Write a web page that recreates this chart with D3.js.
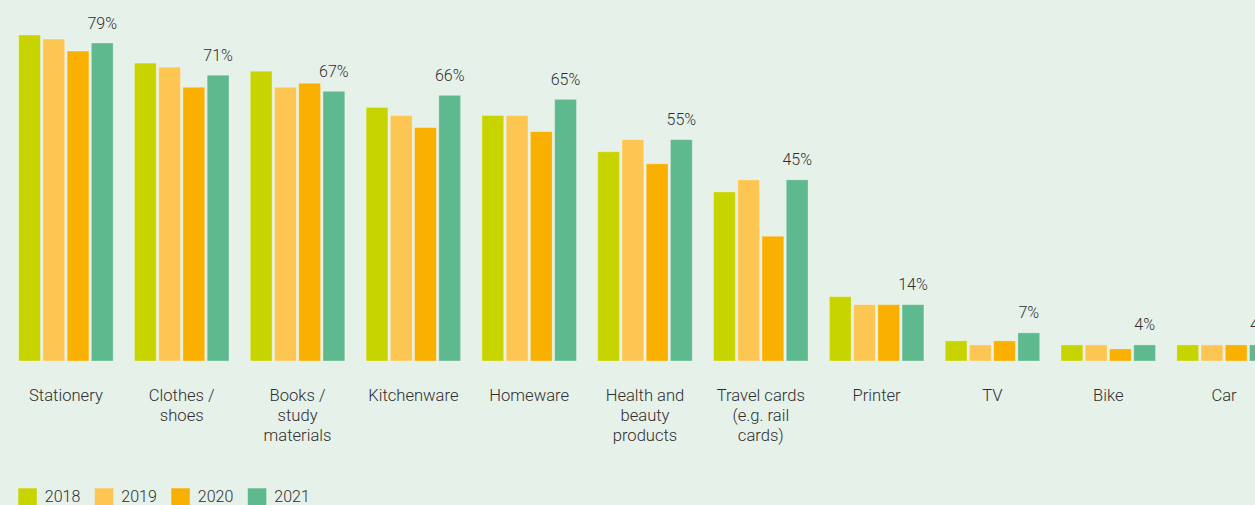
<!DOCTYPE html>
<html>
<head>
<meta charset="utf-8">
<script src="https://cdn.jsdelivr.net/npm/d3@7"></script>
<style>
  html, body { margin: 0; padding: 0; background: #e6f1e9; overflow: hidden; }
  svg { display: block; font-family: Roboto, "Noto Sans", sans-serif; font-weight: 300; }
  text { fill: #2f2f2f; }
</style>
</head>
<body>
<svg id="chart" width="1255" height="505"></svg>
<script>
// Share of respondents buying each item, by survey year (%)
const categories = [
  ["Stationery"],
  ["Clothes /", "shoes"],
  ["Books /", "study", "materials"],
  ["Kitchenware"],
  ["Homeware"],
  ["Health and", "beauty", "products"],
  ["Travel cards", "(e.g. rail", "cards)"],
  ["Printer"],
  ["TV"],
  ["Bike"],
  ["Car"]
];
const years = ["2018", "2019", "2020", "2021"];
const values2018 = [81, 74, 72, 63, 61, 52, 42, 16, 5, 4, 4];
const values2019 = [80, 73, 68, 61, 61, 55, 45, 14, 4, 4, 4];
const values2020 = [77, 68, 69, 58, 57, 49, 31, 14, 5, 3, 4];
const values2021 = [79, 71, 67, 66, 65, 55, 45, 14, 7, 4, 4];
const seriesColors = ["#c8d400", "#fdc652", "#f9b000", "#5fb98e"];

const series = [values2018, values2019, values2020, values2021];
const keys = categories.map(c => c.join(" "));

const svg = d3.select("#chart");
const baseline = 361;

const x = d3.scaleBand()
  .domain(keys)
  .range([8, 1282])
  .paddingInner(0.184)
  .paddingOuter(0.092);

const xSub = d3.scaleBand()
  .domain(years)
  .range([0, x.bandwidth()])
  .paddingInner(0.1);

const y = d3.scaleLinear()
  .domain([0, 79])
  .range([baseline, baseline - 318]);

const color = d3.scaleOrdinal().domain(years).range(seriesColors);

// Grouped bars
const groups = svg.append("g")
  .selectAll("g")
  .data(keys)
  .join("g")
  .attr("transform", d => `translate(${x(d)},0)`);

groups.selectAll("rect")
  .data((d, i) => years.map((yr, j) => ({ year: yr, value: series[j][i] })))
  .join("rect")
  .attr("x", d => xSub(d.year))
  .attr("width", xSub.bandwidth())
  .attr("y", d => y(d.value))
  .attr("height", d => baseline - y(d.value))
  .attr("fill", d => color(d.year))
  .attr("stroke", "#ffffff")
  .attr("stroke-opacity", 0.3)
  .attr("stroke-width", 1);

// Value labels above the 2021 bar
groups.append("text")
  .attr("x", xSub("2021") + xSub.bandwidth() / 2)
  .attr("y", (d, i) => y(values2021[i]) - 14.5)
  .attr("text-anchor", "middle")
  .style("font-size", "16px")
  .text((d, i) => values2021[i] + "%");

// Category labels (multi-line)
const labels = groups.append("text")
  .attr("text-anchor", "middle")
  .style("font-size", "16.6px");
labels.selectAll("tspan")
  .data((d, i) => categories[i])
  .join("tspan")
  .attr("x", x.bandwidth() / 2)
  .attr("y", (d, i) => 400.8 + i * 20)
  .text(d => d);

// Legend
const legend = svg.append("g").attr("transform", "translate(18.3,488.3)");
let lx = 0;
years.forEach(yr => {
  const item = legend.append("g").attr("transform", `translate(${lx},0)`);
  item.append("rect")
    .attr("width", 18.5)
    .attr("height", 18.5)
    .attr("fill", color(yr));
  const t = item.append("text")
    .attr("x", 26.5)
    .attr("y", 13.4)
    .style("font-size", "16px")
    .text(yr);
  lx += 26.5 + t.node().getComputedTextLength() + 14.5;
});
</script>
</body>
</html>
